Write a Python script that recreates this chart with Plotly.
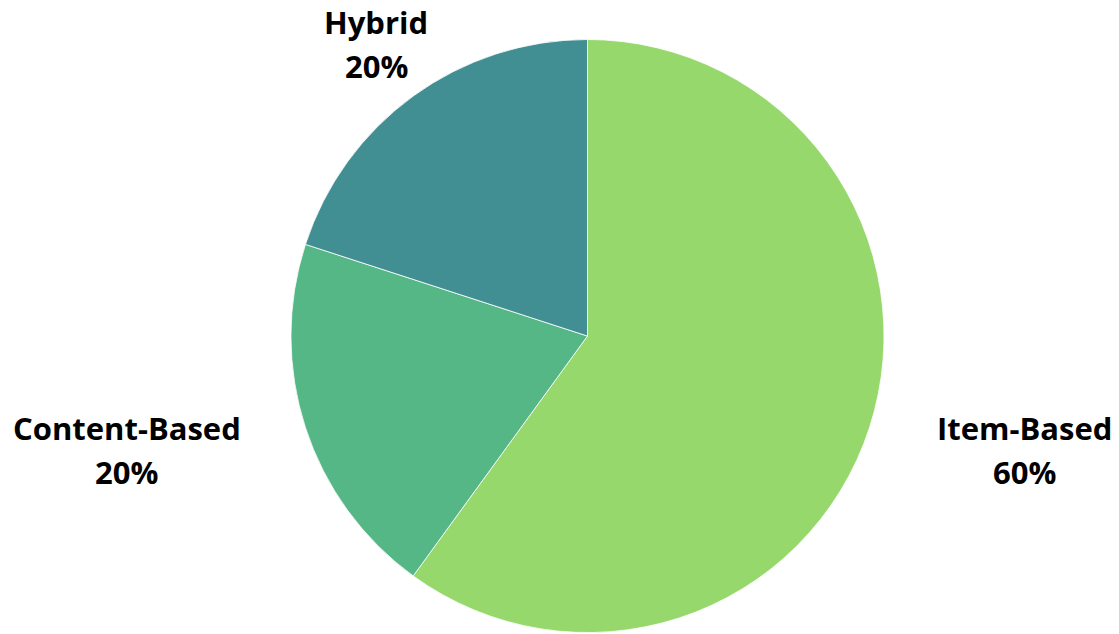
import plotly.graph_objects as go

categories = ["Item-Based", "Content-Based", "Hybrid"]
values = [60, 20, 20]
colors = ["#96D86C", "#55B686", "#418E93"]

# label placement (paper coords): centre x, y of name line and y of percent line
label_pos = {
    "Item-Based": (1024.5 / 1119, 1 - 428 / 634, 1 - 472 / 634),
    "Content-Based": (126.5 / 1119, 1 - 428 / 634, 1 - 472 / 634),
    "Hybrid": (376 / 1119, 1 - 22 / 634, 1 - 66 / 634),
}

total = sum(values)
fig = go.Figure(
    go.Pie(
        labels=categories,
        values=values,
        marker=dict(colors=colors, line=dict(color="white", width=0.8)),
        sort=False,
        direction="clockwise",
        rotation=0,
        textinfo="none",
        hoverinfo="label+percent",
        showlegend=False,
        domain=dict(x=[0.26, 0.79], y=[0, 0.94]),
    )
)

annotations = []
font = dict(family="Open Sans", size=31, color="#000000")
for cat, v in zip(categories, values):
    x, y1, y2 = label_pos[cat]
    annotations.append(dict(x=x, y=y1, xref="paper", yref="paper", text=f"<b>{cat}</b>",
                            showarrow=False, xanchor="center", yanchor="middle", font=font))
    annotations.append(dict(x=x, y=y2, xref="paper", yref="paper", text=f"<b>{round(v / total * 100)}%</b>",
                            showarrow=False, xanchor="center", yanchor="middle", font=font))

fig.update_layout(
    width=1119,
    height=634,
    margin=dict(l=0, r=0, t=0, b=0),
    paper_bgcolor="white",
    plot_bgcolor="white",
    annotations=annotations,
)

fig.write_html("out.html")
